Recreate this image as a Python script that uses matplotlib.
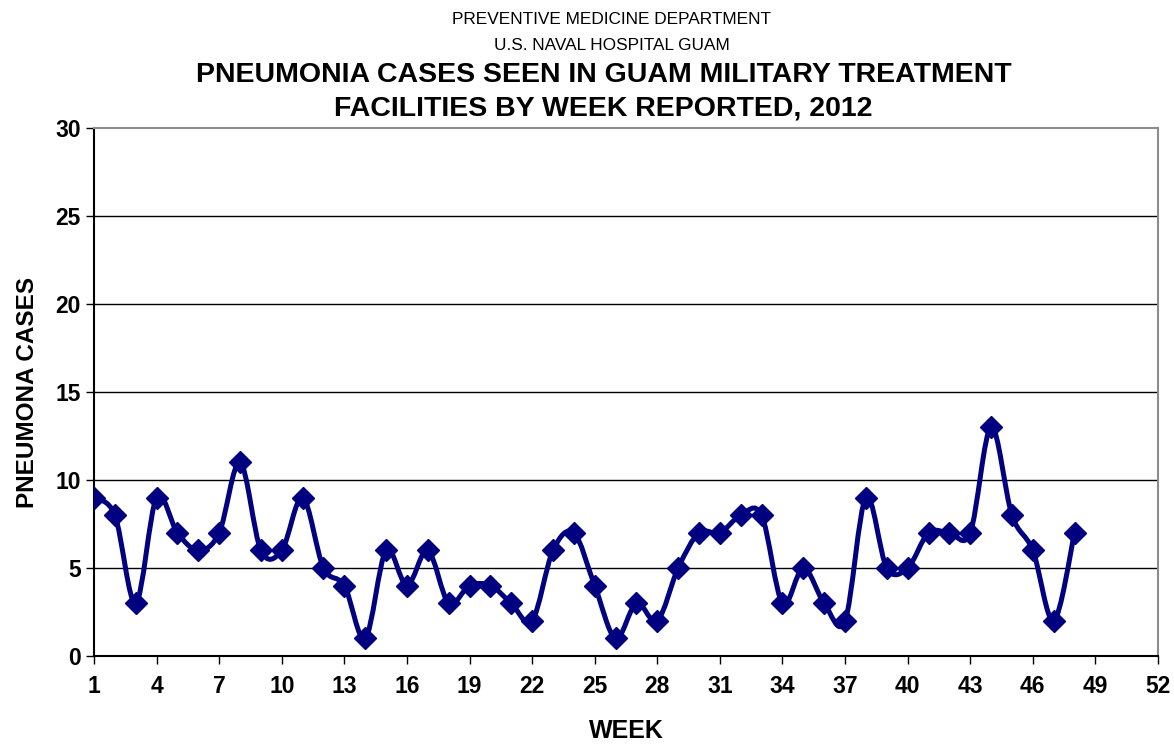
import numpy as np
import matplotlib
matplotlib.use("Agg")
import matplotlib.pyplot as plt
from matplotlib.path import Path
from matplotlib.patches import PathPatch

plt.rcParams['font.family'] = ['Liberation Sans', 'DejaVu Sans']

weeks = list(range(1, 49))
cases = [9, 8, 3, 9, 7, 6, 7, 11, 6, 6, 9, 5, 4, 1, 6, 4, 6, 3, 4, 4, 3, 2, 6, 7,
         4, 1, 3, 2, 5, 7, 7, 8, 8, 3, 5, 3, 2, 9, 5, 5, 7, 7, 7, 13, 8, 6, 2, 7]
xticks = list(range(1, 53, 3))
yticks = [0, 5, 10, 15, 20, 25, 30]
NAVY = "#000080"

def smooth_path(x, y):
    # Excel-like smoothed line: cubic Bezier segments with Catmull-Rom control points
    x = np.asarray(x, float); y = np.asarray(y, float)
    n = len(x)
    verts = [(x[0], y[0])]; codes = [Path.MOVETO]
    for i in range(n - 1):
        p0 = i - 1 if i > 0 else i
        p3 = i + 2 if i + 2 < n else i + 1
        c1 = (x[i] + (x[i + 1] - x[p0]) / 6, y[i] + (y[i + 1] - y[p0]) / 6)
        c2 = (x[i + 1] - (x[p3] - x[i]) / 6, y[i + 1] - (y[p3] - y[i]) / 6)
        verts += [c1, c2, (x[i + 1], y[i + 1])]
        codes += [Path.CURVE4] * 3
    return Path(verts, codes)

fig = plt.figure(figsize=(11.74, 7.47), dpi=100)
ax = fig.add_axes([94/1174, 1-656/747, (1158-94)/1174, (656-128)/747])

for yv in yticks[1:-1]:
    ax.axhline(yv, color="black", lw=1, zorder=1)

ax.add_patch(PathPatch(smooth_path(weeks, cases), fill=False, edgecolor=NAVY, lw=3.6, zorder=3))
ax.plot(weeks, cases, ls="none", marker="D", ms=11, color=NAVY, zorder=4)

ax.set_xlim(1, 52)
ax.set_ylim(0, 30)
ax.set_xticks(xticks)
ax.set_yticks(yticks)
ax.tick_params(axis="both", labelsize=16.5, direction="out", length=6, width=1, color="black")
for lab in ax.get_xticklabels() + ax.get_yticklabels():
    lab.set_fontweight("bold")
ax.tick_params(axis="x", pad=8)
ax.spines["left"].set_color("black"); ax.spines["bottom"].set_color("black")
ax.spines["top"].set_color("#8c8c8c"); ax.spines["right"].set_color("#8c8c8c")
for s in ax.spines.values():
    s.set_linewidth(1.5)

ax.set_xlabel("WEEK", fontsize=18, fontweight="bold", labelpad=15)
ax.set_ylabel("PNEUMONA CASES", fontsize=17.5, fontweight="bold", labelpad=12)

fig.text(0.521, 1-19/747, "PREVENTIVE MEDICINE DEPARTMENT", ha="center", va="center", fontsize=12.4)
fig.text(0.521, 1-45/747, "U.S. NAVAL HOSPITAL GUAM", ha="center", va="center", fontsize=12.4)
fig.text(0.514, 1-75/747, "PNEUMONIA CASES SEEN IN GUAM MILITARY TREATMENT", ha="center", va="center",
         fontsize=20.5, fontweight="bold")
fig.text(0.514, 1-109/747, "FACILITIES BY WEEK REPORTED, 2012", ha="center", va="center",
         fontsize=20.5, fontweight="bold")

fig.savefig("out.png", dpi=100)
